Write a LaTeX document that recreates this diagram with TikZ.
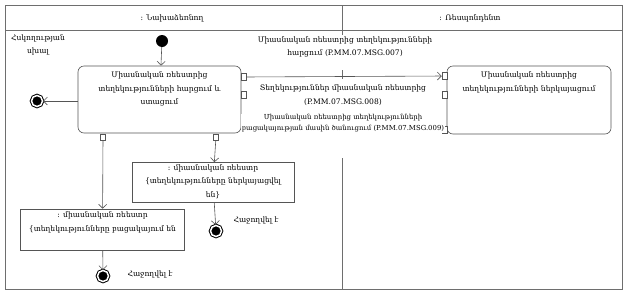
\documentclass[tikz,border=0pt]{standalone}
\usepackage{fontspec}
\setmainfont{DejaVu Serif}
\usepackage{xcolor}
\usepackage{tikz}
\usetikzlibrary{arrows.meta,positioning,calc}
\definecolor{cline}{RGB}{85,85,85}
\definecolor{cframe}{RGB}{110,110,110}

\begin{document}
\begin{tikzpicture}[
    x=1pt, y=-1pt,
    >={Straight Barb[length=4pt,width=8pt]},
    font=\fontsize{7.6}{13.5}\selectfont,
    action/.style={
        rectangle,
        rounded corners=6pt,
        draw=cline,
        fill=white,
        line width=0.6pt,
        inner sep=0pt
    },
    objbox/.style={
        rectangle,
        draw=cline,
        fill=white,
        line width=0.6pt,
        inner sep=0pt
    },
    boxtext/.style={
        align=center,
        inner sep=1pt
    },
    pin/.style={
        rectangle,
        draw=cline,
        fill=white,
        line width=0.5pt,
        minimum width=5pt,
        minimum height=7pt,
        inner sep=0pt
    },
    pinv/.style={
        pin,
        minimum width=5pt,
        minimum height=6pt
    },
    initial/.style={
        circle,
        fill=black,
        minimum size=12pt,
        inner sep=0pt
    },
    final/.style={
        circle,
        fill=black,
        draw=black,
        double=white,
        double distance=1.5pt,
        line width=1pt,
        minimum size=11pt,
        inner sep=0pt
    },
    msglabel/.style={
        fill=white,
        align=center,
        inner sep=1pt
    },
    note/.style={
        align=center,
        inner sep=1pt
    },
    arr/.style={
        ->,
        line width=0.6pt,
        draw=cline
    }
]
\useasboundingbox (0,0) rectangle (628,295);

% Swimlanes
\draw[cframe, line width=0.8pt] (5,5) rectangle (622,289);
\draw[cframe, line width=0.6pt] (5,30) -- (622,30);
\draw[cframe, line width=0.6pt] (342,5) -- (342,36);
\draw[cframe, line width=0.6pt] (342,70) -- (342,79);
\draw[cframe, line width=0.6pt] (342,158) -- (342,289);
\node[note] (laneA) at (172,18) {: Նախաձեռնող};
\node[note] (laneB) at (470,18) {: Ռեսպոնդենտ};

% Initial node and main action
\node[initial] (start) at (162,41) {};
\node[action, minimum width=163pt, minimum height=67pt] (request) at (159.5,99.5) {};
\node[boxtext, below=5pt of request.north] (requestText)
    {Միասնական ռեեստրից\\ տեղեկությունների հարցում և\\ ստացում};
\node[action, minimum width=164pt, minimum height=68pt] (present) at (529,100) {};
\node[boxtext, below=5pt of present.north] (presentText)
    {Միասնական ռեեստրից\\ տեղեկությունների ներկայացում};

% Pins
\node[pin] (out007) at (244,77) {};
\node[pin] (in008) at (244,95) {};
\node[pin] (in007) at (444.5,76) {};
\node[pin] (out008) at (444.5,94.5) {};
\node[pin] (out009) at (444.5,130) {};
\node[pinv] (pinMiss) at (103,137) {};
\node[pinv] (pinOk) at (216,137) {};

% Final nodes
\node[final] (endErr) at (37,101) {};
\node[note] (errLabel) at (38,45) {Հսկողության\\ սխալ};

\node[objbox, minimum width=162pt, minimum height=40pt] (okObj) at (213,182.5) {};
\node[boxtext, below=1pt of okObj.north] (okText)
    {: միասնական ռեեստր\\ \{տեղեկությունները ներկայացվել\\ են\}};
\node[final] (endOk) at (216,231) {};
\node[note] (okLabel) at (256,220) {Հաջողվել է};

\node[objbox, minimum width=164pt, minimum height=41pt] (missObj) at (102.5,229.5) {};
\node[boxtext, below=2pt of missObj.north] (missText)
    {: միասնական ռեեստր\\ \{տեղեկությունները բացակայում են};
\node[final] (endMiss) at (103,276) {};
\node[note] (missLabel) at (150,274) {Հաջողվել է};

% Control flow
\draw[arr] (start) -- (request);
\draw[arr] (request.west |- endErr) -- (endErr);
\draw[arr] (pinOk) -- (okObj);
\draw[arr] (okObj) -- (endOk);
\draw[arr] (pinMiss) -- (missObj);
\draw[arr] (missObj) -- (endMiss);

% Messages
\draw[arr] (out007) -- (in007);
\node[msglabel] (lbl007) at (345,47)
    {Միասնական ռեեստրից տեղեկությունների\\ հարցում (P.MM.07.MSG.007)};
\node[msglabel] (lbl008) at (343,95)
    {Տեղեկություններ միասնական ռեեստրից\\ (P.MM.07.MSG.008)};
\node[msglabel, font=\fontsize{6.9}{11}\selectfont] (lbl009) at (343,123.5)
    {Միասնական ռեեստրից տեղեկությունների\\ բացակայության մասին ծանուցում (P.MM.07.MSG.009)};

\end{tikzpicture}
\end{document}
